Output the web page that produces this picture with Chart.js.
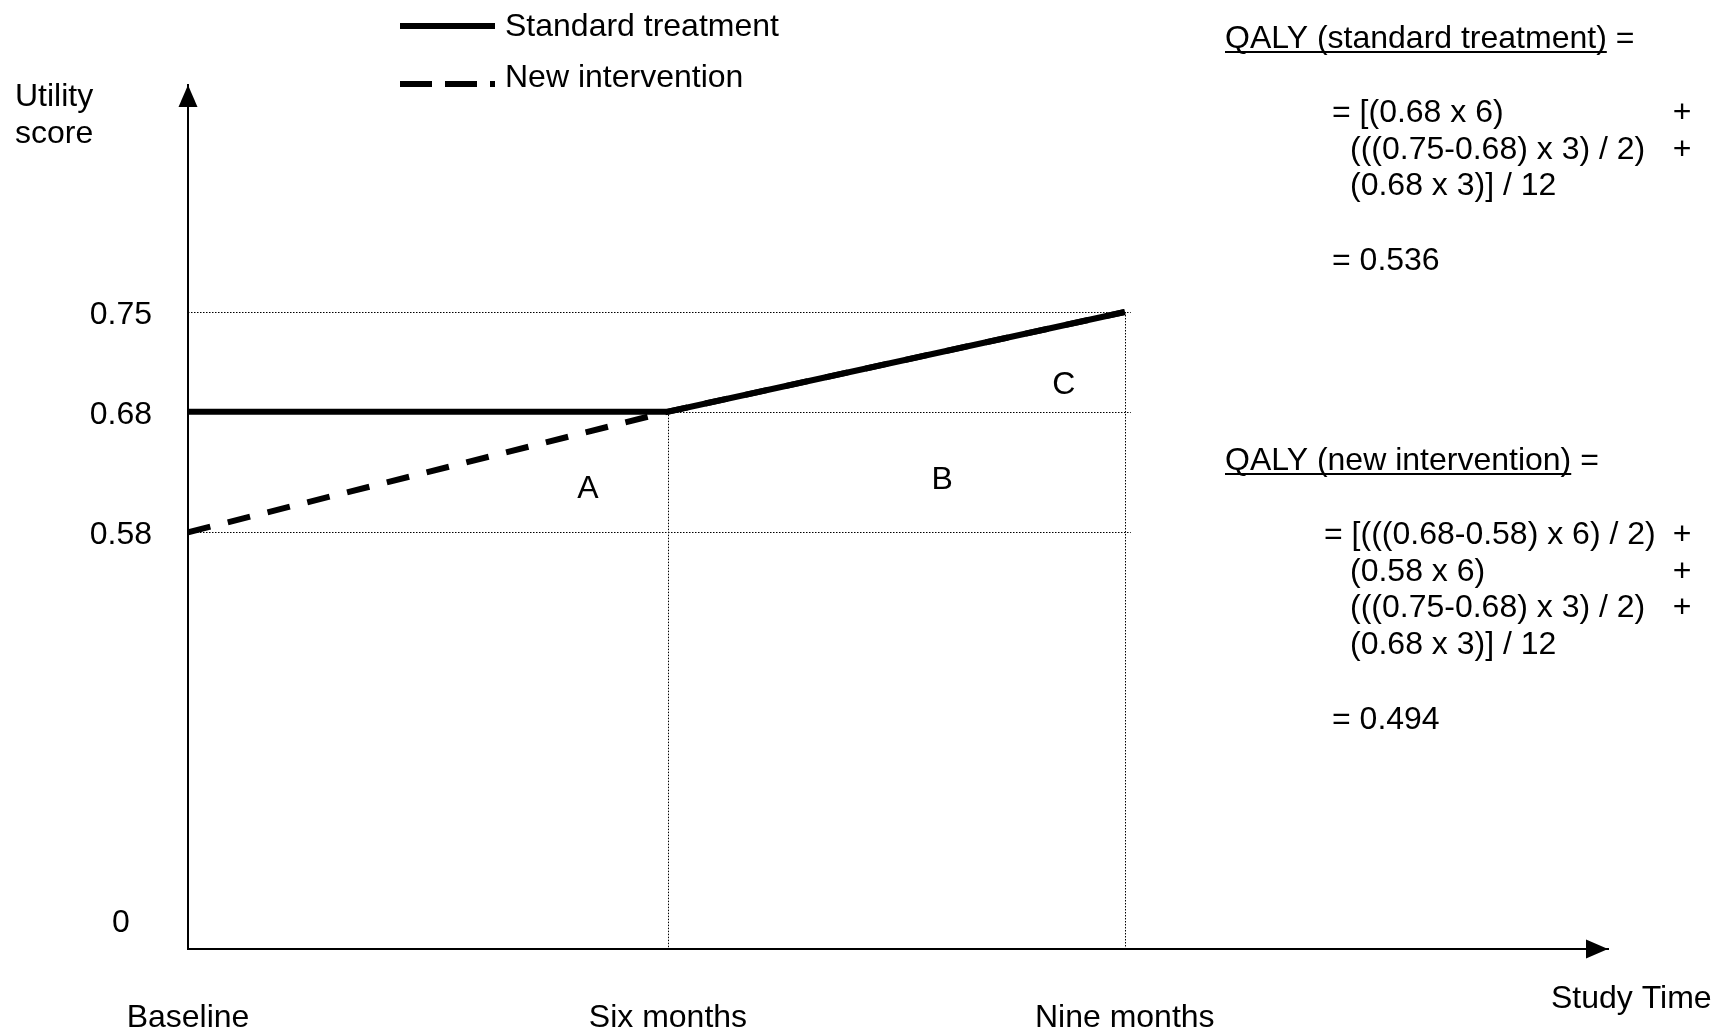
<!DOCTYPE html>
<html>
<head>
<meta charset="utf-8">
<title>QALY - standard treatment vs new intervention</title>
<script src="https://cdn.jsdelivr.net/npm/chart.js@4.4.1/dist/chart.umd.min.js"></script>
<style>
  html, body { margin: 0; padding: 0; background: #fff; }
  canvas { display: block; }
</style>
</head>
<body>
<canvas id="qalyChart" width="1718" height="1031"></canvas>
<script>
// data
const months = [0, 6, 9];
const timeLabels = ['Baseline', 'Six months', 'Nine months'];
const standardTreatment = [0.68, 0.68, 0.75];
const newIntervention = [0.58, 0.68, 0.75];
const utilityTicks = [0, 0.58, 0.68, 0.75];

// area letters (month, utility)
const areaLabels = ['A', 'B', 'C'];
const areaMonths = [5.0, 7.8, 8.6];
const areaUtility = [0.617, 0.625, 0.70];

// formula text on the right
const stdTitle = 'QALY (standard treatment)';
const stdLines = ['= [(0.68 x 6)', '(((0.75-0.68) x 3) / 2)', '(0.68 x 3)] / 12'];
const stdResult = '= 0.536';
const newTitle = 'QALY (new intervention)';
const newLines = ['= [(((0.68-0.58) x 6) / 2)', '(0.58 x 6)', '(((0.75-0.68) x 3) / 2)', '(0.68 x 3)] / 12'];
const newResult = '= 0.494';

const FONT = '"Liberation Sans", Arial, sans-serif';
Chart.defaults.font.family = FONT;
Chart.defaults.font.size = 32;
Chart.defaults.color = '#000';

// the figure is a schematic: the axes are not to scale, so the scale
// maps values piecewise through fixed stops [value, fraction of axis]
class SchematicScale extends Chart.LinearScale {
  decimalFor(value) {
    const stops = this.options.stops;
    if (value <= stops[0][0]) return stops[0][1];
    for (let i = 1; i < stops.length; i++) {
      const [v0, d0] = stops[i - 1], [v1, d1] = stops[i];
      if (value <= v1) return d0 + (value - v0) / (v1 - v0) * (d1 - d0);
    }
    return stops[stops.length - 1][1];
  }
  getPixelForValue(value) {
    return this.getPixelForDecimal(this.decimalFor(value));
  }
  getValueForPixel(pixel) {
    const dec = this.getDecimalForPixel(pixel);
    const stops = this.options.stops;
    for (let i = 1; i < stops.length; i++) {
      const [v0, d0] = stops[i - 1], [v1, d1] = stops[i];
      if (dec <= d1) return v0 + (dec - d0) / (d1 - d0) * (v1 - v0);
    }
    return stops[stops.length - 1][0];
  }
}
SchematicScale.id = 'schematic';
SchematicScale.defaults = Chart.LinearScale.defaults;
Chart.register(SchematicScale);

function drawLine(ctx, x1, y1, x2, y2) {
  ctx.beginPath();
  ctx.moveTo(x1, y1);
  ctx.lineTo(x2, y2);
  ctx.stroke();
}

const qalyDecor = {
  id: 'qalyDecor',
  beforeDatasetsDraw(chart) {
    const { ctx, chartArea, scales: { x, y } } = chart;
    ctx.save();
    ctx.strokeStyle = '#000';
    ctx.lineWidth = 1;
    ctx.setLineDash([1.5, 1.5]);
    // dotted guides from the y axis to the last time point
    const xEnd = x.getPixelForValue(months[months.length - 1]) + 6;
    utilityTicks.filter(v => v > 0).forEach(v => {
      const py = Math.round(y.getPixelForValue(v)) + 0.5;
      drawLine(ctx, chartArea.left, py, xEnd, py);
    });
    // dotted drops from the higher curve down to the time axis
    months.forEach((m, i) => {
      if (i === 0) return;
      const top = Math.max(standardTreatment[i], newIntervention[i]);
      const px = Math.round(x.getPixelForValue(m)) + 0.5;
      drawLine(ctx, px, y.getPixelForValue(top), px, chartArea.bottom);
    });
    ctx.restore();
  },
  afterDatasetsDraw(chart) {
    const { ctx, scales: { x, y } } = chart;
    ctx.save();
    ctx.fillStyle = '#000';
    ctx.font = '32px ' + FONT;
    ctx.textAlign = 'center';
    ctx.textBaseline = 'middle';
    areaLabels.forEach((t, i) => {
      ctx.fillText(t, x.getPixelForValue(areaMonths[i]), y.getPixelForValue(areaUtility[i]) + 2);
    });
    ctx.restore();
  },
  afterDraw(chart) {
    const { ctx, chartArea } = chart;
    ctx.save();
    ctx.fillStyle = '#000';
    ctx.strokeStyle = '#000';

    // arrow heads on both axes
    ctx.beginPath();
    ctx.moveTo(chartArea.left, chartArea.top);
    ctx.lineTo(chartArea.left - 9.5, chartArea.top + 22);
    ctx.lineTo(chartArea.left + 9.5, chartArea.top + 22);
    ctx.closePath();
    ctx.fill();
    ctx.beginPath();
    ctx.moveTo(chartArea.right, chartArea.bottom);
    ctx.lineTo(chartArea.right - 22, chartArea.bottom - 9.5);
    ctx.lineTo(chartArea.right - 22, chartArea.bottom + 9.5);
    ctx.closePath();
    ctx.fill();

    ctx.font = '32px ' + FONT;
    ctx.textBaseline = 'middle';
    ctx.textAlign = 'left';

    // axis names
    ctx.fillText('Utility', 15, 97);
    ctx.fillText('score', 15, 134);
    ctx.fillText('Study Time', 1551, 999);

    // legend
    const sampleX = 400, sampleW = 95, textX = 505;
    const rows = [{ ds: chart.data.datasets[0], lineY: 26, textY: 27, dash: [] },
                  { ds: chart.data.datasets[1], lineY: 84, textY: 78, dash: [32, 13] }];
    rows.forEach(r => {
      ctx.save();
      ctx.lineWidth = r.ds.borderWidth;
      ctx.strokeStyle = r.ds.borderColor;
      ctx.setLineDash(r.dash);
      drawLine(ctx, sampleX, r.lineY, sampleX + sampleW, r.lineY);
      ctx.restore();
      ctx.fillText(r.ds.label, textX, r.textY);
    });

    // formula blocks
    function block(titleY, title, lines, firstX, result) {
      ctx.fillText(title, 1225, titleY);
      const w = ctx.measureText(title).width;
      ctx.fillText(' =', 1225 + w, titleY);
      ctx.lineWidth = 2;
      drawLine(ctx, 1225, titleY + 13, 1225 + w, titleY + 13);
      let ly = titleY + 74;
      lines.forEach((t, i) => {
        ctx.textAlign = 'left';
        ctx.fillText(t, i === 0 ? firstX : 1350, ly);
        if (i < lines.length - 1) {
          ctx.textAlign = 'center';
          ctx.fillText('+', 1682, ly);
        }
        ly += 36.7;
      });
      ctx.textAlign = 'left';
      ctx.fillText(result, 1332, ly - 36.7 + 75);
    }
    block(39, stdTitle, stdLines, 1332, stdResult);
    block(461, newTitle, newLines, 1324, newResult);
    ctx.restore();
  }
};

const ctx = document.getElementById('qalyChart').getContext('2d');
const qalyChart = new Chart(ctx, {
  type: 'line',
  data: {
    datasets: [{
      label: 'Standard treatment',
      data: months.map((m, i) => ({ x: m, y: standardTreatment[i] })),
      borderColor: '#000',
      borderWidth: 6,
      pointRadius: 0,
      fill: false,
      tension: 0
    }, {
      label: 'New intervention',
      data: months.map((m, i) => ({ x: m, y: newIntervention[i] })),
      borderColor: '#000',
      borderWidth: 6,
      borderDash: [23, 18],
      pointRadius: 0,
      fill: false,
      tension: 0
    }]
  },
  options: {
    responsive: false,
    animation: false,
    devicePixelRatio: 1,
    layout: { padding: { top: 85, right: 110, left: 0, bottom: 0 } },
    scales: {
      x: {
        type: 'schematic',
        min: 0,
        max: 12,
        stops: [[0, 0], [6, 0.338], [9, 0.6597], [12, 1]],
        grid: { display: false, drawTicks: false },
        border: { display: true, color: '#000', width: 2 },
        afterFit: s => { s.height = 82; },
        afterBuildTicks: s => { s.ticks = months.map(v => ({ value: v })); },
        ticks: {
          padding: 50,
          maxRotation: 0,
          autoSkip: false,
          callback: v => timeLabels[months.indexOf(v)]
        }
      },
      y: {
        type: 'schematic',
        min: -0.05,
        max: 1,
        stops: [[-0.05, 0], [0, 0.0331], [0.58, 0.4823], [0.68, 0.6219], [0.75, 0.7373], [1, 1]],
        grid: { display: false, drawTicks: false },
        border: { display: true, color: '#000', width: 2 },
        afterFit: s => { s.width = 188; },
        afterBuildTicks: s => { s.ticks = utilityTicks.map(v => ({ value: v })); },
        ticks: {
          padding: 36,
          crossAlign: 'center',
          autoSkip: false,
          labelOffset: 3,
          callback: v => String(v)
        }
      }
    },
    plugins: {
      legend: { display: false },
      tooltip: { enabled: false }
    }
  },
  plugins: [qalyDecor]
});
</script>
</body>
</html>
